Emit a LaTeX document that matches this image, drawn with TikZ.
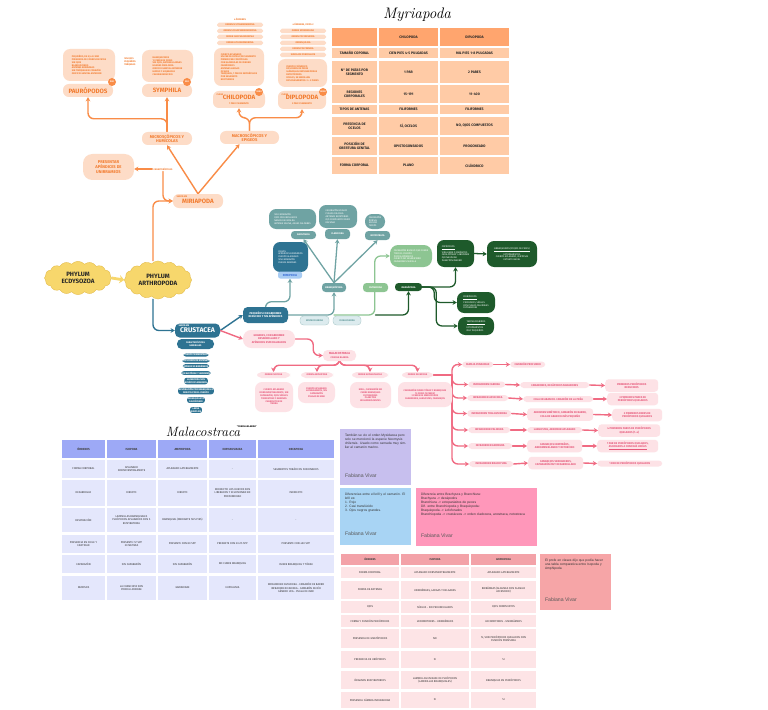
\documentclass[tikz,border=0pt]{standalone}
\usepackage{fontspec}
\setsansfont{Fira Sans}
\newfontfamily\notefont{Liberation Sans}
\usetikzlibrary{arrows.meta,shapes.symbols,backgrounds}

\definecolor{orln}{HTML}{F98C47}
\definecolor{orbg}{HTML}{FDDCC7}
\definecolor{ortx}{HTML}{F27B2E}
\definecolor{myhead}{HTML}{FFA56E}
\definecolor{mybody}{HTML}{FFCBA6}
\definecolor{ylw}{HTML}{F7D76C}
\definecolor{ylwdk}{HTML}{E2B946}
\definecolor{crusc}{HTML}{2E7392}
\definecolor{tealc}{HTML}{6FA3A3}
\definecolor{ltbl}{HTML}{A8CCF3}
\definecolor{ltbltx}{HTML}{3C70D6}
\definecolor{mistbg}{HTML}{DCEBEE}
\definecolor{misttx}{HTML}{5E9798}
\definecolor{grn}{HTML}{8DC592}
\definecolor{grndk}{HTML}{1E5A2B}
\definecolor{pkln}{HTML}{F06A82}
\definecolor{pkbg}{HTML}{FDE2E6}
\definecolor{pktx}{HTML}{E6587A}
\definecolor{malhead}{HTML}{9DA9F6}
\definecolor{malbody}{HTML}{E4E7FC}
\definecolor{isohead}{HTML}{F3A2A8}
\definecolor{isobody}{HTML}{FDE4E6}
\definecolor{notepu}{HTML}{C7BFEE}
\definecolor{notebl}{HTML}{A8D4F4}
\definecolor{notepk}{HTML}{FF97BA}
\definecolor{notesa}{HTML}{F6A5A7}

\newcommand\fsX{\fontsize{2.0}{2.4}\selectfont}
\newcommand\fsY{\fontsize{2.3}{2.8}\selectfont}
\newcommand\fsA{\fontsize{2.5}{3.0}\selectfont}
\newcommand\fsB{\fontsize{3.0}{3.6}\selectfont}
\newcommand\fsC{\fontsize{3.5}{4.1}\selectfont}
\newcommand\fsD{\fontsize{5.3}{5.9}\selectfont}

\begin{document}
\begin{tikzpicture}[x=0.03cm, y=-0.03cm, font=\sffamily,
  sz/.style 2 args={minimum width=(#1)*0.03cm, minimum height=(#2)*0.03cm},
  orbox/.style={fill=orbg, text=ortx, rounded corners=5pt, inner sep=0.5pt, align=center, font=\sffamily\bfseries\fsC},
  ordesc/.style={fill=orbg, text=ortx, rounded corners=6pt, inner sep=1.5pt, align=left, font=\sffamily\bfseries\fsX},
  orpill/.style={fill=orbg, text=ortx, rounded corners=1.5pt, inner sep=0.3pt, sz={46}{4.5}, font=\sffamily\bfseries\fsX},
  badge/.style={circle, fill=orln, text=white, inner sep=0pt, minimum size=0.24cm, font=\sffamily\bfseries\fsX},
  orarrow/.style={draw=orln, line width=1.2pt, line cap=round, rounded corners=5pt, -{Stealth[length=3.5pt,width=4pt]}},
  cloudbox/.style={cloud, cloud puffs=16, cloud puff arc=100, aspect=2, fill=ylw, draw=ylwdk, line width=0.3pt, align=center, font=\sffamily\bfseries\fsD, text=black!85},
  blbox/.style={fill=crusc, text=white, rounded corners=4pt, inner sep=0.5pt, align=center, font=\sffamily\bfseries\fsA},
  blpill/.style={fill=crusc, text=white, rounded corners=2pt, inner sep=0.6pt, align=center, font=\sffamily\bfseries\fsX},
  blarrow/.style={draw=crusc, line width=1.2pt, line cap=round, rounded corners=5pt, -{Stealth[length=3.5pt,width=4pt]}},
  tlbox/.style={fill=tealc, text=white, rounded corners=3pt, inner sep=0.5pt, align=center, font=\sffamily\bfseries\fsX},
  tldesc/.style={fill=tealc, text=white, rounded corners=6pt, inner sep=1pt, align=left, font=\sffamily\fsX},
  tlarrow/.style={draw=tealc, line width=1.1pt, line cap=round, rounded corners=5pt, -{Stealth[length=3.5pt,width=4pt]}},
  mistbox/.style={fill=mistbg, draw=tealc!60, line width=0.3pt, text=misttx, rounded corners=3pt, inner sep=0.5pt, font=\sffamily\bfseries\fsX},
  grarrow/.style={draw=grn, line width=1.1pt, line cap=round, rounded corners=5pt, -{Stealth[length=3.5pt,width=4pt]}},
  dgdesc/.style={fill=grndk, text=white, rounded corners=6pt, inner sep=1pt, align=left, font=\sffamily\fsX},
  dgarrow/.style={draw=grndk, line width=1.1pt, line cap=round, rounded corners=5pt, -{Stealth[length=3.5pt,width=4pt]}},
  pkbox/.style={fill=pkbg, text=pktx, rounded corners=4pt, inner sep=0.5pt, align=center, font=\sffamily\bfseries\fsA},
  pkdesc/.style={fill=pkbg, text=pktx, rounded corners=6pt, inner sep=1pt, align=center, font=\sffamily\bfseries\fsX},
  pkrow/.style={fill=pkbg, text=pktx, rounded corners=3pt, inner sep=0.5pt, anchor=west, align=center, font=\sffamily\bfseries\fsY},
  pkarrow/.style={draw=pkln, line width=1.2pt, line cap=round, rounded corners=5pt, -{Stealth[length=3.5pt,width=4pt]}},
  mycell/.style={fill=mybody, inner sep=0.3pt, align=center, font=\sffamily\bfseries\fsB, text=black!85},
  malcell/.style={fill=malbody, inner sep=0.3pt, align=center, font=\sffamily\fsY, text=black!80},
  isocell/.style={fill=isobody, inner sep=0.3pt, align=center, font=\sffamily\fsY, text=black!80},
  note/.style={inner sep=0pt, anchor=center},
  notetxt/.style={anchor=north west, inner sep=0pt, align=left, text=black!80, font=\notefont\fontsize{2.8}{3.5}\selectfont},
  noteauth/.style={anchor=west, inner sep=0pt, text=black!65, font=\notefont\fontsize{4.4}{5}\selectfont}]

\useasboundingbox (0,0) rectangle (768,709);

% Myriapoda
\node[ordesc, sz={52}{32}] (paudesc) at (89,65) {PEQUEÑOS, DE 0,5 A 2 MM\\PRESENCIA DE 9 PARES DE PATAS\\SIN OJOS\\BLANQUECINOS\\ANTENAS BIRRÁMEAS\\SIN TRÁQUEAS NI CORAZÓN\\ORIFICIO GENITAL ANTERIOR};
\node[orbox, sz={50}{13}, font=\sffamily\bfseries\fsD] (pau) at (88,90.5) {PAURÓPODOS};
\node[badge] (paub) at (112,82) {500};
\node[font=\sffamily\bfseries\fsX, text=ortx, align=left] (pauside) at (130,62) {SIN OJOS\\PEQUEÑOS\\TRÁQUEAS};
\node[ordesc, sz={51}{32}] (symdesc) at (167.5,66) {BLANQUECINOS\\12 PARES DE PATAS\\SIN OJOS, ANTENAS LARGAS\\HILERAS PARA SEDA\\ORIFICIO GENITAL ANTERIOR\\HUMUS Y HOJARASCA\\CELOMA REDUCIDO};
\node[orbox, sz={50}{13}, font=\sffamily\bfseries\fsD] (sym) at (167,90.5) {SYMPHILA};
\node[badge] (symb) at (187,82) {200};

\node[font=\sffamily\bfseries\fsX, text=ortx] (chihd) at (240,19) {4 ÓRDENES};
\foreach \i/\t in {1/ORDEN SCUTIGEROMORPHA, 2/ORDEN SCOLOPENDROMORPHA, 3/ORDEN GEOPHILOMORPHA, 4/ORDEN LITHOBIOMORPHA}
  \node[orpill] (chip\i) at (240,{19+6*\i}) {\t};
\node[ordesc, sz={50}{38}] (chidesc) at (239,67) {CUERPO APLANADO\\UN PAR DE PATAS POR SEGMENTO\\PRIMER PAR: FORCÍPULAS\\CON GLÁNDULAS DE VENENO\\CARNÍVOROS\\ANTENAS LARGAS\\OCELOS\\TRÁQUEAS, 1 PAR DE ESPIRÁCULOS\\POR SEGMENTO\\NOCTURNOS};
\node[orbox, sz={52}{17}] (chi) at (239,99.5) {{\fsD CHILOPODA}\\{\fsX 1 PAR X SEGMENTO}};
\node[font=\sffamily\bfseries\fsX, text=ortx, anchor=north west, inner sep=0.5pt] (chicl) at ([shift={(3,2)}]chi.north west) {CLASE};
\node[badge] (chib) at (259,92) {3000};

\node[font=\sffamily\bfseries\fsX, text=ortx] (diphd) at (303,25) {4 ÓRDENES, VIVOS 2};
\foreach \i/\t in {1/ORDEN SPIROBOLIDA, 2/ORDEN POLYDESMIDA, 3/ORDEN JULIDA, 4/ORDEN POLYXENIDA, 5/SUBCLASE PENICILLATA}
  \node[orpill] (dipp\i) at (303,{25+6*\i}) {\t};
\node[ordesc, sz={49}{28}] (dipdesc) at (302.5,73) {CUERPO CILÍNDRICO\\DOS PARES DE PATAS\\GLÁNDULAS REPUGNATORIAS\\DETRITÍVOROS\\OCELOS, SE ENROLLAN\\DIPLOSEGMENTOS: 2 + 2 PARES};
\node[orbox, sz={48}{18}] (dip) at (302,100) {{\fsD DIPLOPODA}\\{\fsX 2 PAR X SEGMENTO}};
\node[font=\sffamily\bfseries\fsX, text=ortx, anchor=north west, inner sep=0.5pt] (dipcl) at ([shift={(3,2)}]dip.north west) {CLASE};
\node[badge] (dipb) at (323,92) {8000};

\node[orbox, sz={50}{13}] (micro) at (167,138.5) {MICROSCÓPICOS Y\\HUMÍCOLAS};
\node[orbox, sz={59}{13}] (macro) at (249.5,137.5) {MACROSCÓPICOS Y\\EPIGEOS};
\node[orbox, sz={51}{26}, rounded corners=8pt] (apen) at (108.5,167) {PRESENTAR\\APÉNDICES DE\\UNIRRAMEOS};
\node[font=\sffamily\bfseries\fsX, text=ortx, inner sep=1pt] (carac) at (163,169) {CARACTERÍSTICAS};
\node[orbox, sz={50}{14}, font=\sffamily\bfseries\fsD] (miria) at (198,201) {MIRIAPODA};
\node[font=\sffamily\bfseries\fsX, text=ortx, anchor=north west, inner sep=0.5pt] (miriasub) at ([shift={(3,1)}]miria.north west) {SUBFILUM};

% phylum
\node[cloudbox, sz={67}{33}] (ecdy) at (78,278) {PHYLUM\\ECDYSOZOA};
\node[cloudbox, sz={67}{35}] (arth) at (158,280) {PHYLUM\\ARTHROPODA};

% Crustacea
\node[blbox, sz={45}{14}, font=\sffamily\bfseries\fontsize{5.8}{6.2}\selectfont] (crus) at (197.5,330.5) {CRUSTACEA};
\node[font=\sffamily\bfseries\fsX, text=white, anchor=north west, inner sep=0.5pt] (crussub) at ([shift={(3,1)}]crus.north west) {SUBFILUM};
\node[blbox, sz={37}{10}, font=\sffamily\bfseries\fsX] (cargen) at (195.5,344) {CARACTERÍSTICAS\\GENERALES};
\foreach \i/\y/\t in {1/355/CUERPO SEGMENTADO, 2/361/DOS PARES DE ANTENAS, 3/366/APÉNDICES BIRRÁMEOS, 4/373/CEFALOTÓRAX Y ABDOMEN, 5/381/{LA MAYORÍA SON\\ACUÁTICOS MARINOS}, 6/391/{RESPIRACIÓN POR BRANQUIAS O\\DIRECTA POR EL CUERPO}, 7/400/{EXOESQUELETO\\CALCIFICADO}, 8/410/{LARVA\\NAUPLIUS}}
  \node[blpill] (cp\i) at (196,\y) {\t};

\node[blbox, sz={45}{16}, font=\sffamily\bfseries\fsY] (peq) at (265.5,315) {PEQUEÑOS CON ABDOMEN\\REDUCIDO Y SIN APÉNDICES};
\node[fill=crusc, text=white, rounded corners=6pt, inner sep=1pt, align=left, font=\sffamily\fsX, sz={35}{30}] (remdesc) at (290.5,257) {CIEGOS\\APÉNDICES BIRRÁMEOS\\CUERPO ALARGADO\\SIN CAPARAZÓN\\CUEVAS MARINAS};
\node[fill=ltbl, text=ltbltx, rounded corners=2pt, inner sep=0.5pt, sz={24}{7}, font=\sffamily\bfseries\fsA] (rem) at (290,275) {REMIPEDIA};

\node[tlbox, sz={24}{9}] (branq) at (334,287.5) {BRANQUIÓPODA};
\node[tlbox, sz={25}{8}] (anos) at (303.5,235) {ANOSTRACA};
\node[tlbox, sz={25}{10}] (clad) at (337.5,234) {CLADOCERA};
\node[tlbox, sz={25}{9}] (notos) at (377.5,235.5) {NOTOSTRACA};
\node[tldesc, sz={47}{20}] (anosd) at (292.5,219) {SIN CAPARAZÓN\\OJOS PEDUNCULADOS\\NADAN DE ESPALDA\\ARTEMIA SALINA, AGUAS SALOBRES};
\node[tldesc, sz={38}{23}] (cladd) at (338,216.5) {CAPARAZÓN BIVALVO\\PULGAS DE AGUA\\ANTENAS NATATORIAS\\OJO COMPUESTO ÚNICO\\DAPHNIA};
\node[tldesc, sz={20}{15}] (notosd) at (375,221.5) {CAPARAZÓN\\DORSAL\\ESCUDO\\TRIOPS};
\node[mistbox, sz={29}{9}] (mist) at (314.5,320.5) {MISTACOCARIDA};
\node[mistbox, sz={28}{9}] (cefa) at (347,320.5) {CEFALOCARIDA};

\node[fill=grn, text=white, rounded corners=3pt, inner sep=0.5pt, sz={25}{9}, font=\sffamily\bfseries\fsX] (ostra) at (375.5,287.5) {OSTRACODA};
\node[fill=grn, text=white, rounded corners=7pt, inner sep=1pt, sz={42}{22}, align=left, font=\sffamily\fsX] (ostd) at (411,256) {CAPARAZÓN BIVALVO QUE CUBRE\\TODO EL CUERPO\\POCOS APÉNDICES\\CUERPO NO SEGMENTADO\\CAMARONES SEMILLA};
\node[fill=grndk, text=white, rounded corners=3pt, inner sep=0.5pt, sz={27}{8}, font=\sffamily\bfseries\fsX] (maxi) at (408.5,287) {MAXILÓPODA};
\node[dgdesc, sz={37}{27}] (mxd1) at (455.5,253.5) {\underline{COPÉPODOS}\\VIDA LIBRE O PARÁSITOS\\CEFALOTÓRAX Y ABDOMEN\\OJO NAUPLIAR\\PLANCTON MARINO};
\node[dgdesc, sz={50}{26}, align=center] (mxd2) at (512,254) {\underline{BRANQUIUROS (PIOJOS DE PECES)}\\ECTOPARÁSITOS\\CUERPO APLANADO, VENTOSAS\\ESTILETE BUCAL};
\node[dgdesc, sz={38}{21}] (mxd3) at (476,302.5) {\underline{CIRRIPEDIOS}\\PICOROCOS, SÉSILES\\CON PLACAS CALCÁREAS\\FILTRADORES};
\node[dgdesc, sz={36}{18}] (mxd4) at (476,326) {\underline{TANTULOCÁRIDOS}\\ECTOPARÁSITOS\\MUY PEQUEÑOS};

% Malacostraca
\node[pkbox, sz={52}{18}, rounded corners=7pt, font=\sffamily\bfseries\fsY] (gran) at (269,339) {GRANDES, CON ABDOMEN\\DESARROLLADO Y\\APÉNDICES ESPECIALIZADOS};
\node[pkbox, sz={33}{11}] (mala) at (339.5,355.5) {MALACOSTRACA\\{\fsX CONCHA BLANDA}};
\node[pkbox, sz={33}{6}, font=\sffamily\bfseries\fsX] (iso) at (273.5,375) {ORDEN ISOPODA};
\node[pkbox, sz={32}{6}, font=\sffamily\bfseries\fsX] (amp) at (317,375) {ORDEN AMPHIPODA};
\node[pkbox, sz={36}{6}, font=\sffamily\bfseries\fsX] (eup) at (370,375) {ORDEN EUPHAUSIACEA};
\node[pkbox, sz={31}{6}, font=\sffamily\bfseries\fsX] (dec) at (417.5,375) {ORDEN DECAPODA};
\node[pkdesc, sz={38}{30}] (isod) at (274,397) {CUERPO APLANADO\\DORSOVENTRALMENTE, SIN\\CAPARAZÓN, OJOS SÉSILES\\TERRESTRES Y MARINOS\\CHANCHITOS DE\\TIERRA};
\node[pkdesc, sz={37}{21}] (ampd) at (316.5,392.5) {CUERPO APLANADO\\LATERALMENTE, SIN\\CAPARAZÓN\\PULGAS DE MAR};
\node[pkdesc, sz={41}{26}] (eupd) at (370.5,395) {KRILL, CAPARAZÓN NO\\CUBRE BRANQUIAS\\FILTRADORES\\PLANCTON\\BIOLUMINISCENTES};
\node[pkdesc, sz={54}{25}] (decd) at (425,394.5) {CAPARAZÓN CUBRE TÓRAX Y BRANQUIAS\\10 PATAS (5 PARES)\\3 PARES DE MAXILÍPEDOS\\CAMARONES, LANGOSTAS, CANGREJOS};
\coordinate (tr) at (452,375);

\node[pkrow, sz={31}{6}] (d0-a) at (462,364.5) {FAMILIA PENAEIDAE};
\node[pkrow, sz={35}{6}] (d0-b) at (510,364.5) {CAMARÓN PROFUNDO};
\node[pkrow, sz={37}{6}] (d1-a) at (468,384.5) {INFRAORDEN CARIDEA};
\node[pkrow, sz={69}{6}] (d1-b) at (520,385) {CAMARONES, DECÁPODOS NADADORES};
\node[pkrow, sz={53}{12.5}] (d1-c) at (605,385.5) {PRIMEROS PERIÓPODOS\\REDUCIDOS};
\node[pkrow, sz={41}{6}] (d2-a) at (467,398) {INFRAORDEN ASTACIDEA};
\node[pkrow, sz={70}{6}] (d2-b) at (523,399) {COLA EN ABANICO. CAMARÓN DE LA PEÑA};
\node[pkrow, sz={51}{12.5}] (d2-c) at (607,399) {3 PRIMEROS PARES DE\\PERIÓPODOS QUELADOS};
\node[pkrow, sz={44}{7}] (d3-a) at (467,413.5) {INFRAORDEN THALASSINIDEA};
\node[pkrow, sz={66}{12.5}] (d3-b) at (527,414.5) {ABDOMEN SIMÉTRICO, CAMARÓN DE BARRO,\\COLA EN ABANICO MÁS PEQUEÑO};
\node[pkrow, sz={50}{12.5}] (d3-c) at (612,415) {3 PRIMEROS PARES DE\\PERIÓPODOS QUELADOS};
\node[pkrow, sz={42}{6}] (d4-a) at (468,430) {INFRAORDEN PALINURA};
\node[pkrow, sz={55}{6}] (d4-b) at (527,430) {LANGOSTAS, ABDOMEN APLANADO};
\node[pkrow, sz={62}{12.5}] (d4-c) at (598,430.5) {4 PRIMEROS PARES DE PERIÓPODOS\\QUELADOS (1-4)};
\node[pkrow, sz={44}{6}] (d5-a) at (468,446) {INFRAORDEN ANOMURA};
\node[pkrow, sz={55}{12.5}] (d5-b) at (527,446) {CANGREJOS ERMITAÑOS,\\ABDOMEN BLANDO Y RETORCIDO};
\node[pkrow, sz={61}{12.5}] (d5-c) at (597,446) {1 PAR DE PERIÓPODOS QUELADOS,\\\underline{ASOCIADOS A CONCHAS VACÍAS}};
\node[pkrow, sz={44}{6}] (d6-a) at (469,464) {INFRAORDEN BRACHYURA};
\node[pkrow, sz={55}{12.5}] (d6-b) at (528,463) {CANGREJOS VERDADEROS,\\CAPARAZÓN MUY DESARROLLADO};
\node[pkrow, sz={65}{6}] (d6-c) at (597,463.5) {1 PAR DE PERIÓPODOS QUELADOS};

% tabla Myriapoda
\node[font=\rmfamily\itshape\fontsize{13}{13}\selectfont] (mytit) at (417,15) {Myriapoda};
\node[mycell, fill=myhead, sz={45}{18}] (my-0-a) at (354.5,37) {};
\node[mycell, fill=myhead, sz={59}{18}] (my-0-b) at (408.5,37) {CHILOPODA};
\node[mycell, fill=myhead, sz={69}{18}] (my-0-c) at (474.5,37) {DIPLOPODA};
\foreach \r/\ya/\yb/\ta/\tb/\tc in {
  1/48/58/{TAMAÑO COPORAL}/{CIEN PIES 4-5 PULGADAS}/{MIL PIES 1-8 PULGADAS},
  2/61/83/{N° DE PATAS POR\\SEGMENTO}/{1 PAR}/{2 PARES},
  3/85/103/{REGIONES\\CORPORALES}/{15-191}/{11-400},
  4/105/114/{TIPOS DE ANTENAS}/{FILIFORMES}/{FILIFORMES},
  5/117/135/{PRESENCIA DE\\OCELOS}/{SÍ, OCELOS}/{NO, OJOS COMPUESTOS},
  6/137/155/{POSICIÓN DE\\OBERTURA GENITAL}/{OPISTOGONEADOS}/{PROGONEADO},
  7/157/174/{FORMA CORPORAL}/{PLANO}/{CILÍNDRICO}}{
  \node[mycell, sz={45}{\yb-\ya}] (my-\r-a) at (354.5,{(\ya+\yb)/2}) {\ta};
  \node[mycell, sz={59}{\yb-\ya}] (my-\r-b) at (408.5,{(\ya+\yb)/2}) {\tb};
  \node[mycell, sz={69}{\yb-\ya}] (my-\r-c) at (474.5,{(\ya+\yb)/2}) {\tc};
}

% tabla Malacostraca
\node[font=\rmfamily\itshape\fontsize{11.5}{11.5}\selectfont] (maltit) at (203,432) {Malacostraca};
\node[font=\sffamily\bfseries\fsX, anchor=south west, inner sep=0.5pt] (malsup) at (236,428) {“CONCHA BLANDA”};
\foreach \c/\x/\w/\t in {a/83.5/43/ÓRDENES, b/131.5/49/ISOPODA, c/182.5/49/AMPHIPODA, d/232.5/47/EUPHAUSIACEA, e/296/76/DECAPODA}
  \node[malcell, fill=malhead, font=\sffamily\bfseries\fsA, text=black!75, sz={\w}{18}] (mal-0-\c) at (\x,449) {\t};
\foreach \r/\ya/\yb/\ta/\tb/\tc/\td/\te in {
  1/460/478/{FORMA CORPORAL}/{APLANADO\\DORSOVENTRALMENTE}/{APLANADO LATERALMENTE}/{-}/{SEGMENTOS TORÁCICOS FUSIONADOS},
  2/480/506/{DESARROLLO}/{DIRECTO}/{DIRECTO}/{INDIRECTO: LOS HUEVOS SON\\LIBERADOS Y ECLOSIONAN EN\\PROFUNDIDAD}/{INDIRECTO},
  3/508/532/{RESPIRACIÓN}/{LAMINILLAS BRANQUIALES\\PLEÓPODOS APLANADOS CON F.\\RESPIRATORIA}/{BRANQUIAL (MEDIANTE SUS PIES)}/{-}/{-},
  4/535/553/{PRESENCIA EN CHILE Y\\CANTIDAD}/{PRESENTE: 57 SPP\\20 NATIVAS}/{PRESENTE CON 80 SPP}/{PRESENTE CON 20+15 SPP}/{PRESENTE CON 400 SPP},
  5/555/573/{CAPARAZÓN}/{SIN CAPARAZÓN}/{SIN CAPARAZÓN}/{NO CUBRE BRANQUIAS}/{CUBRE BRANQUIAS Y TÓRAX},
  6/576/600/{FAMOSOS}/{LA CHANCHITA SON\\PORCELLIONIDAE}/{GAMARIDAE}/{EUPHAUSIA}/{INFRAORDEN ASTACIDEA - CAMARÓN DE BARRO\\INFRAORDEN CARIDEA - CAMARÓN DE RÍO\\GÉNERO UCA - PULGA DE MAR}}{
  \node[malcell, sz={43}{\yb-\ya}] (mal-\r-a) at (83.5,{(\ya+\yb)/2}) {\ta};
  \node[malcell, sz={49}{\yb-\ya}] (mal-\r-b) at (131.5,{(\ya+\yb)/2}) {\tb};
  \node[malcell, sz={49}{\yb-\ya}] (mal-\r-c) at (182.5,{(\ya+\yb)/2}) {\tc};
  \node[malcell, sz={47}{\yb-\ya}] (mal-\r-d) at (232.5,{(\ya+\yb)/2}) {\td};
  \node[malcell, sz={76}{\yb-\ya}] (mal-\r-e) at (296,{(\ya+\yb)/2}) {\te};
}

% tabla Isopoda / Amphipoda
\foreach \c/\x/\w/\t in {a/370/58/ÓRDENES, b/435/68/ISOPODA, c/503.5/65/AMPHIPODA}
  \node[isocell, fill=isohead, font=\sffamily\bfseries\fsY, text=black!75, sz={\w}{11}] (iso-0-\c) at (\x,559.5) {\t};
\foreach \r/\ya/\yb/\ta/\tb/\tc in {
  1/567/578/{FORMA CORPORAL}/{APLANADO DORSOVENTRALMENTE}/{APLANADO LATERALMENTE},
  2/581/599/{FORMA DE ANTENAS}/{UNIRRÁMEAS, LARGAS Y DELGADAS}/{BIRRÁMEAS (ALGUNAS CON FLAGELO\\ACCESORIO)},
  3/601/613/{OJOS}/{SÉSILES - NO PEDUNCULADOS}/{OJOS COMPUESTOS},
  4/615/627/{FORMA Y FUNCIÓN PERIÓPODOS}/{LOCOMOTORES - UNIRRÁMEOS}/{LOCOMOTORES - UNIRRÁMEOS},
  5/629/648/{PRESENCIA DE GNATÓPODOS}/{NO}/{SI, SON PERIÓPODOS QUELADOS CON\\FUNCIÓN PRENSORA},
  6/651/668/{PRESENCIA DE URÓPODOS}/{SI}/{SI},
  7/671/689/{ÓRGANOS RESPIRATORIOS}/{LAMINILLAS EN BASE DE PLEÓPODOS\\(LAMINILLAS BRANQUIALES)}/{BRANQUIAS EN PERIÓPODOS},
  8/692/708/{PRESENCIA CÁMARA INCUBADORA}/{SI}/{SI}}{
  \node[isocell, sz={58}{\yb-\ya}] (iso-\r-a) at (370,{(\ya+\yb)/2}) {\ta};
  \node[isocell, sz={68}{\yb-\ya}] (iso-\r-b) at (435,{(\ya+\yb)/2}) {\tb};
  \node[isocell, sz={65}{\yb-\ya}] (iso-\r-c) at (503.5,{(\ya+\yb)/2}) {\tc};
}

% notas
\node[note, fill=notepu, sz={71}{56}] (npu) at (375.5,457) {};
\node[notetxt, text width=1.85cm] (npuT) at ([shift={(5,5)}]npu.north west) {También se vio el orden Mysidacea pero solo se mencionó la especie Neomysis chilensis. Usado como carnada muy similar al camarón marino.};
\node[noteauth] (npuA) at ([shift={(5,-10)}]npu.south west) {Fabiana Vivar};
\node[note, fill=notebl, sz={71}{57}] (nbl) at (375.5,516.5) {};
\node[notetxt, text width=1.85cm] (nblT) at ([shift={(5,5)}]nbl.north west) {Diferencias entre el krill y el camarón. El krill es:\\1. Rojo\\2. Casi translúcido\\3. Ojos negros grandes.};
\node[noteauth] (nblA) at ([shift={(5,-12)}]nbl.south west) {Fabiana Vivar};
\node[note, fill=notepk, sz={121}{58}] (npk) at (476.5,517) {};
\node[notetxt, text width=3.4cm] (npkT) at ([shift={(5,5)}]npk.north west) {Diferencia entre Brachyura y Branchiura:\\Brachyura -> decápodos\\Branchiura -> ectoparásitos de peces\\Dif. entre Branchiopoda y Braquiopoda:\\Braquiopoda -> Lofoforados\\Branchiopoda -> crustáceos -> orden cladocera, anostraca, notostraca};
\node[noteauth] (npkA) at ([shift={(5,-11)}]npk.south west) {Fabiana Vivar};
\node[note, fill=notesa, sz={71}{56}] (nsa) at (575.5,582) {};
\node[notetxt, text width=1.85cm] (nsaT) at ([shift={(5,5)}]nsa.north west) {El profe en clases dijo que podía hacer una tabla comparativa entre Isopoda y Amphipoda};
\node[noteauth] (nsaA) at ([shift={(5,-11)}]nsa.south west) {Fabiana Vivar};

% conectores
\begin{scope}[on background layer]
\fill[white] (0,0) rectangle (768,709);
\draw[line width=2.4pt, ylw, -{Stealth[length=4pt,width=7pt]}] (ecdy.east) -- (arth.west);
\draw[orarrow] ([xshift=-0.15cm]arth.north) |- (miria.west);
\draw[orarrow] (carac.south) |- (miria.west);
\draw[orarrow] (carac.west) -- (carac.west -| apen.east);
\draw[orarrow] (miria.north) -- (micro.south);
\draw[orarrow] (miria.north) -- ([xshift=-0.3cm]macro.south);
\draw[orarrow] (micro.north) -- (sym.south);
\draw[orarrow] (micro.north) -- ++(0,-13) -| (pau.south);
\draw[orarrow] (macro.north) -- ++(0,-13) -| (chi.south);
\draw[orarrow] (macro.north) -- ++(0,-13) -| (dip.south);
\draw[blarrow] ([xshift=-0.15cm]arth.south) |- (crus.west);
\draw[blarrow] (crus.east) -- (peq.west);
\draw[pkarrow] (crus.east) -- (gran.west);
\draw[tlarrow] (peq.north) -- ++(0,-5) -| (rem.south);
\draw[tlarrow] (peq.east) -| (branq.south);
\foreach \t in {anos,clad,notos}
  \draw[tlarrow] (branq.north) -- (\t.south);
\draw[grarrow] (branq.south |- peq.east) -| ([xshift=-0.45cm]ostd.west) -- (ostd.west);
\draw[dgarrow] (ostra.south |- peq.east) -| (maxi.south);
\draw[dgarrow] (maxi.east) -| (mxd1.south);
\draw[dgarrow] (mxd1.east) -- (mxd2.west);
\draw[dgarrow] (maxi.east) -- ++(12,0) |- (mxd3.west);
\draw[dgarrow] (maxi.east) -- ++(14,0) |- (mxd4.west);
\draw[pkarrow] (gran.east) -- ++(18,0) |- (mala.west);
\foreach \t in {iso,amp,eup,dec}
  \draw[pkarrow] (mala.south) -- ++(0,4) -| (\t.north);
\draw[draw=pkln, line width=1.2pt] (dec.east) -- (tr);
\foreach \r in {0,...,6}
  \draw[pkarrow] (tr) |- (d\r-a.west);
\foreach \r in {0,...,6}
  \draw[pkarrow] (d\r-a.east) -- (d\r-b.west);
\foreach \r in {1,...,6}
  \draw[pkarrow] (d\r-b.east) -- (d\r-c.west);
\end{scope}
\end{tikzpicture}
\end{document}
